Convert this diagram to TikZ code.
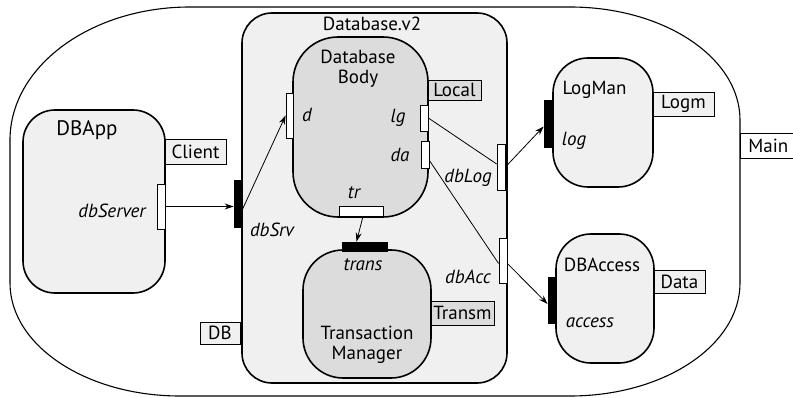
\documentclass[tikz,border=0pt]{standalone}
\usepackage{fontspec}
\setmainfont{PT Sans}
\usetikzlibrary{arrows.meta,calc}
\definecolor{lightf}{HTML}{F0F0F0}
\definecolor{darkf}{HTML}{DCDCDC}
\begin{document}
\begin{tikzpicture}[x=1pt,y=-1pt,
  every node/.style={font=\fontsize{19}{22}\selectfont},
  comp/.style={draw,rectangle,line width=1.6pt,inner sep=0pt},
  tag/.style={draw,rectangle,line width=0.8pt,inner sep=0pt,fill=lightf},
  wport/.style={draw,rectangle,line width=0.8pt,inner sep=0pt,fill=white},
  bport/.style={draw,rectangle,line width=0.8pt,inner sep=0pt,fill=black},
  plabel/.style={font=\fontsize{19}{22}\selectfont\itshape,inner sep=0pt},
  txt/.style={inner sep=0pt,align=center},
  arr/.style={line width=0.8pt,-{Stealth[length=9pt,width=6pt]}},
  conn/.style={line width=0.8pt}]
\useasboundingbox (0,0) rectangle (793,398);
% outer Main shape
\path[draw,line width=1.1pt] (190,7) -- (570,7)
  .. controls (663.9,7) and (740,57.6) .. (740,120)
  -- (740,283)
  .. controls (740,345.4) and (663.9,396) .. (570,396)
  -- (180,396)
  .. controls (86.1,396) and (10,345.4) .. (10,283)
  -- (10,140)
  .. controls (10,66.5) and (90.6,7) .. (190,7);
\node[tag,fill=white,anchor=west,minimum height=25pt,text width=50pt,inner xsep=8pt,align=left] (main) at (740,145.5) {Main};

% components
\node[comp,fill=lightf,rounded corners=30pt,minimum width=265pt,minimum height=370pt] (dbv2) at (374.5,198) {};
\node[txt] (dbv2t) at (372,24) {Database.v2};
\node[comp,fill=lightf,rounded corners=32pt,minimum width=142pt,minimum height=183pt] (dbapp) at (94,201.5) {};
\node[txt,font=\fontsize{21}{24}\selectfont] (dbappt) at (87,130) {DBApp};
\node[comp,fill=darkf,rounded corners=45pt,minimum width=135pt,minimum height=180pt] (body) at (360.5,127) {};
\node[txt] (bodyt) at (358,68.5) {Database\\[-2pt]Body};
\node[comp,fill=darkf,rounded corners=40pt,minimum width=128pt,minimum height=128pt] (tm) at (367,314) {};
\node[txt] (tmt) at (367,345) {Transaction\\[-2pt]Manager};
\node[comp,fill=lightf,rounded corners=35pt,minimum width=100pt,minimum height=129pt] (logman) at (603,122.5) {};
\node[txt] (logmant) at (594.5,90) {LogMan};
\node[comp,fill=lightf,rounded corners=35pt,minimum width=98pt,minimum height=129pt] (dbaccess) at (605,298.5) {};
\node[txt] (dbaccesst) at (602,265) {DBAccess};

% tags
\node[tag,minimum width=61pt,minimum height=25pt] (client) at (195.5,151.5) {Client};
\node[tag,minimum width=40pt,minimum height=22pt] (dbtag) at (220,333) {DB};
\node[tag,fill=darkf,minimum width=53pt,minimum height=20pt] (local) at (454.5,90) {Local};
\node[tag,fill=darkf,minimum width=63pt,minimum height=24pt] (transm) at (462.5,313) {Transm};
\node[tag,minimum width=61pt,minimum height=24pt] (logm) at (683.5,104) {Logm};
\node[tag,minimum width=51pt,minimum height=23pt] (data) at (679.5,281.5) {Data};

% ports
\node[wport,minimum width=8pt,minimum height=45pt] (dbServer) at (161,206.5) {};
\node[bport,minimum width=8pt,minimum height=47pt] (dbSrv) at (238,203.5) {};
\node[wport,minimum width=7pt,minimum height=45pt] (d) at (289.5,115.5) {};
\node[wport,minimum width=8pt,minimum height=26pt] (lg) at (424,118) {};
\node[wport,minimum width=8pt,minimum height=27pt] (da) at (425,154.5) {};
\node[wport,minimum width=44pt,minimum height=10pt] (tr) at (361,211) {};
\node[bport,minimum width=45pt,minimum height=9pt] (trans) at (364.5,246.5) {};
\node[wport,minimum width=8pt,minimum height=46pt] (dbLog) at (501,167) {};
\node[wport,minimum width=8pt,minimum height=45pt] (dbAcc) at (503,260.5) {};
\node[bport,minimum width=9pt,minimum height=47pt] (log) at (548.5,123.5) {};
\node[bport,minimum width=8pt,minimum height=46pt] (access) at (552,300) {};

% port labels
\node[plabel] (dbServert) at (112,211) {dbServer};
\node[plabel] (dbSrvt) at (272,230) {dbSrv};
\node[plabel] (dt) at (307,115) {d};
\node[plabel] (lgt) at (398,118) {lg};
\node[plabel] (dat) at (400,155) {da};
\node[plabel] (trt) at (354,193) {tr};
\node[plabel] (transt) at (363,265) {trans};
\node[plabel] (dbLogt) at (468,178) {dbLog};
\node[plabel] (dbAcct) at (468,277) {dbAcc};
\node[plabel] (logt) at (574,141) {log};
\node[plabel] (accesst) at (590,323) {access};

% connectors
\draw[arr] (dbServer.east) -- (dbServer.east -| dbSrv.west);
\draw[arr] ([yshift=-6pt]dbSrv.east) -- (d.west);
\draw[conn] (lg.east) -- ([yshift=3pt]dbLog.west);
\draw[conn] ([yshift=-6pt]da.east) -- ([yshift=-3pt]dbAcc.west);
\draw[arr] ([xshift=2pt]tr.south) -- ([xshift=-8pt]trans.north);
\draw[arr] (dbLog.east) -- ([yshift=-3pt]log.west);
\draw[arr] ([yshift=-3pt]dbAcc.east) -- ([yshift=-4pt]access.west);
\end{tikzpicture}
\end{document}
